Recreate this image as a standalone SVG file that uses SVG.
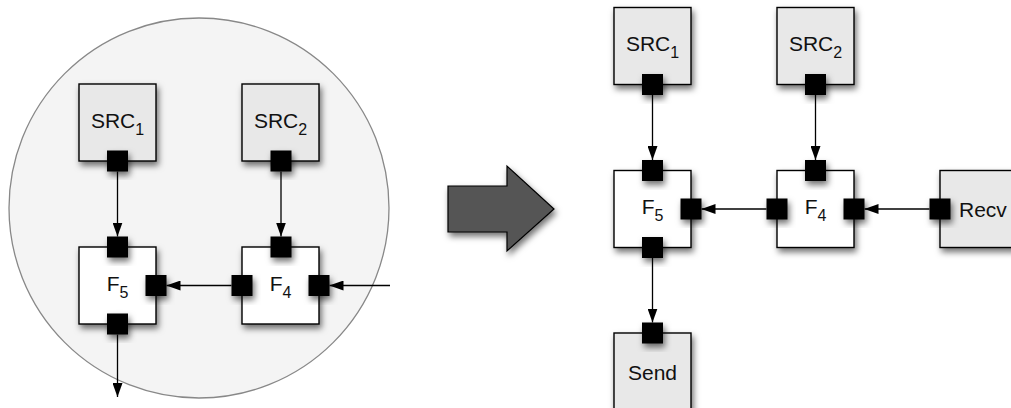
<svg xmlns="http://www.w3.org/2000/svg" width="1011" height="408" viewBox="0 0 1011 408">
<style>
.src{fill:#e8e8e8;stroke:#000;stroke-width:1.4;filter:url(#sh)}
.fn{fill:#fff;stroke:#000;stroke-width:1.4;filter:url(#sh)}
.port{fill:#000;filter:url(#sh)}
.lbl{font-family:"Liberation Sans",Arial,sans-serif;font-size:21px;fill:#111;text-anchor:middle}
.sub{font-size:16px}
.edge{stroke:#000;stroke-width:1.3;fill:none;marker-end:url(#ah)}
</style>
<defs>
<filter id="sh" x="-30%" y="-30%" width="170%" height="170%">
<feDropShadow dx="2" dy="4" stdDeviation="3" flood-color="#000" flood-opacity="0.55"/>
</filter>
<marker id="ah" markerUnits="userSpaceOnUse" markerWidth="14" markerHeight="10" refX="14" refY="5" orient="auto">
<path d="M0,0 L14,5 L0,10 z" fill="#000"/>
</marker>
</defs>
<rect width="1011" height="408" fill="#fff"/>
<g id="cluster">
<circle cx="199" cy="208" r="190" fill="#f4f4f4" stroke="#888" stroke-width="1.3"/>
</g>
<g id="bigarrow">
<polygon points="448,186 507,186 507,166 554,209 507,251 507,232 448,232" fill="#555" stroke="#000" stroke-width="1.2" filter="url(#sh)"/>
</g>
<g id="connectors">
<line class="edge" x1="117.5" y1="171.5" x2="117.5" y2="236.5"/>
<line class="edge" x1="281" y1="171.5" x2="281" y2="236.5"/>
<line class="edge" x1="231.5" y1="285.5" x2="166.5" y2="285.5"/>
<line class="edge" x1="390" y1="285.5" x2="329.5" y2="285.5"/>
<line class="edge" x1="117.5" y1="334.5" x2="117.5" y2="397"/>
<line class="edge" x1="652.5" y1="95" x2="652.5" y2="160"/>
<line class="edge" x1="815.5" y1="95" x2="815.5" y2="160"/>
<line class="edge" x1="766.5" y1="209" x2="701.5" y2="209"/>
<line class="edge" x1="929.5" y1="209" x2="864.5" y2="209"/>
<line class="edge" x1="652.5" y1="258" x2="652.5" y2="322.5"/>
</g>
<g id="src1-left">
<rect class="src" x="79" y="84" width="77" height="77"/>
<rect class="port" x="107" y="150.5" width="21" height="21"/>
<text class="lbl" x="117.5" y="127.5">SRC<tspan class="sub" dy="7">1</tspan></text>
</g>
<g id="src2-left">
<rect class="src" x="242" y="84" width="77" height="77"/>
<rect class="port" x="270.5" y="150.5" width="21" height="21"/>
<text class="lbl" x="280.5" y="127.5">SRC<tspan class="sub" dy="7">2</tspan></text>
</g>
<g id="f5-left">
<rect class="fn" x="79" y="247" width="77" height="77"/>
<rect class="port" x="107" y="236.5" width="21" height="21"/>
<rect class="port" x="145.5" y="275" width="21" height="21"/>
<rect class="port" x="107" y="313.5" width="21" height="21"/>
<text class="lbl" x="117.5" y="290.5">F<tspan class="sub" dy="7">5</tspan></text>
</g>
<g id="f4-left">
<rect class="fn" x="242" y="247" width="77" height="77"/>
<rect class="port" x="270.5" y="236.5" width="21" height="21"/>
<rect class="port" x="231.5" y="275" width="21" height="21"/>
<rect class="port" x="308.5" y="275" width="21" height="21"/>
<text class="lbl" x="280.5" y="290.5">F<tspan class="sub" dy="7">4</tspan></text>
</g>
<g id="src1-right">
<rect class="src" x="614" y="7.5" width="77" height="77"/>
<rect class="port" x="642" y="74" width="21" height="21"/>
<text class="lbl" x="652.5" y="51">SRC<tspan class="sub" dy="7">1</tspan></text>
</g>
<g id="src2-right">
<rect class="src" x="777" y="7.5" width="77" height="77"/>
<rect class="port" x="805" y="74" width="21" height="21"/>
<text class="lbl" x="815.5" y="51">SRC<tspan class="sub" dy="7">2</tspan></text>
</g>
<g id="f5-right">
<rect class="fn" x="614" y="170.5" width="77" height="77"/>
<rect class="port" x="642" y="160" width="21" height="21"/>
<rect class="port" x="680.5" y="198.5" width="21" height="21"/>
<rect class="port" x="642" y="237" width="21" height="21"/>
<text class="lbl" x="652.5" y="214">F<tspan class="sub" dy="7">5</tspan></text>
</g>
<g id="f4-right">
<rect class="fn" x="777" y="170.5" width="77" height="77"/>
<rect class="port" x="805" y="160" width="21" height="21"/>
<rect class="port" x="766.5" y="198.5" width="21" height="21"/>
<rect class="port" x="843.5" y="198.5" width="21" height="21"/>
<text class="lbl" x="815.5" y="214">F<tspan class="sub" dy="7">4</tspan></text>
</g>
<g id="recv">
<rect class="src" x="940" y="170.5" width="77" height="77"/>
<rect class="port" x="929.5" y="198.5" width="21" height="21"/>
<text class="lbl" x="959" y="216.5" style="text-anchor:start">Recv</text>
</g>
<g id="send">
<rect class="src" x="614" y="333" width="77" height="77"/>
<rect class="port" x="642" y="322.5" width="21" height="21"/>
<text class="lbl" x="652.5" y="380">Send</text>
</g>
</svg>
